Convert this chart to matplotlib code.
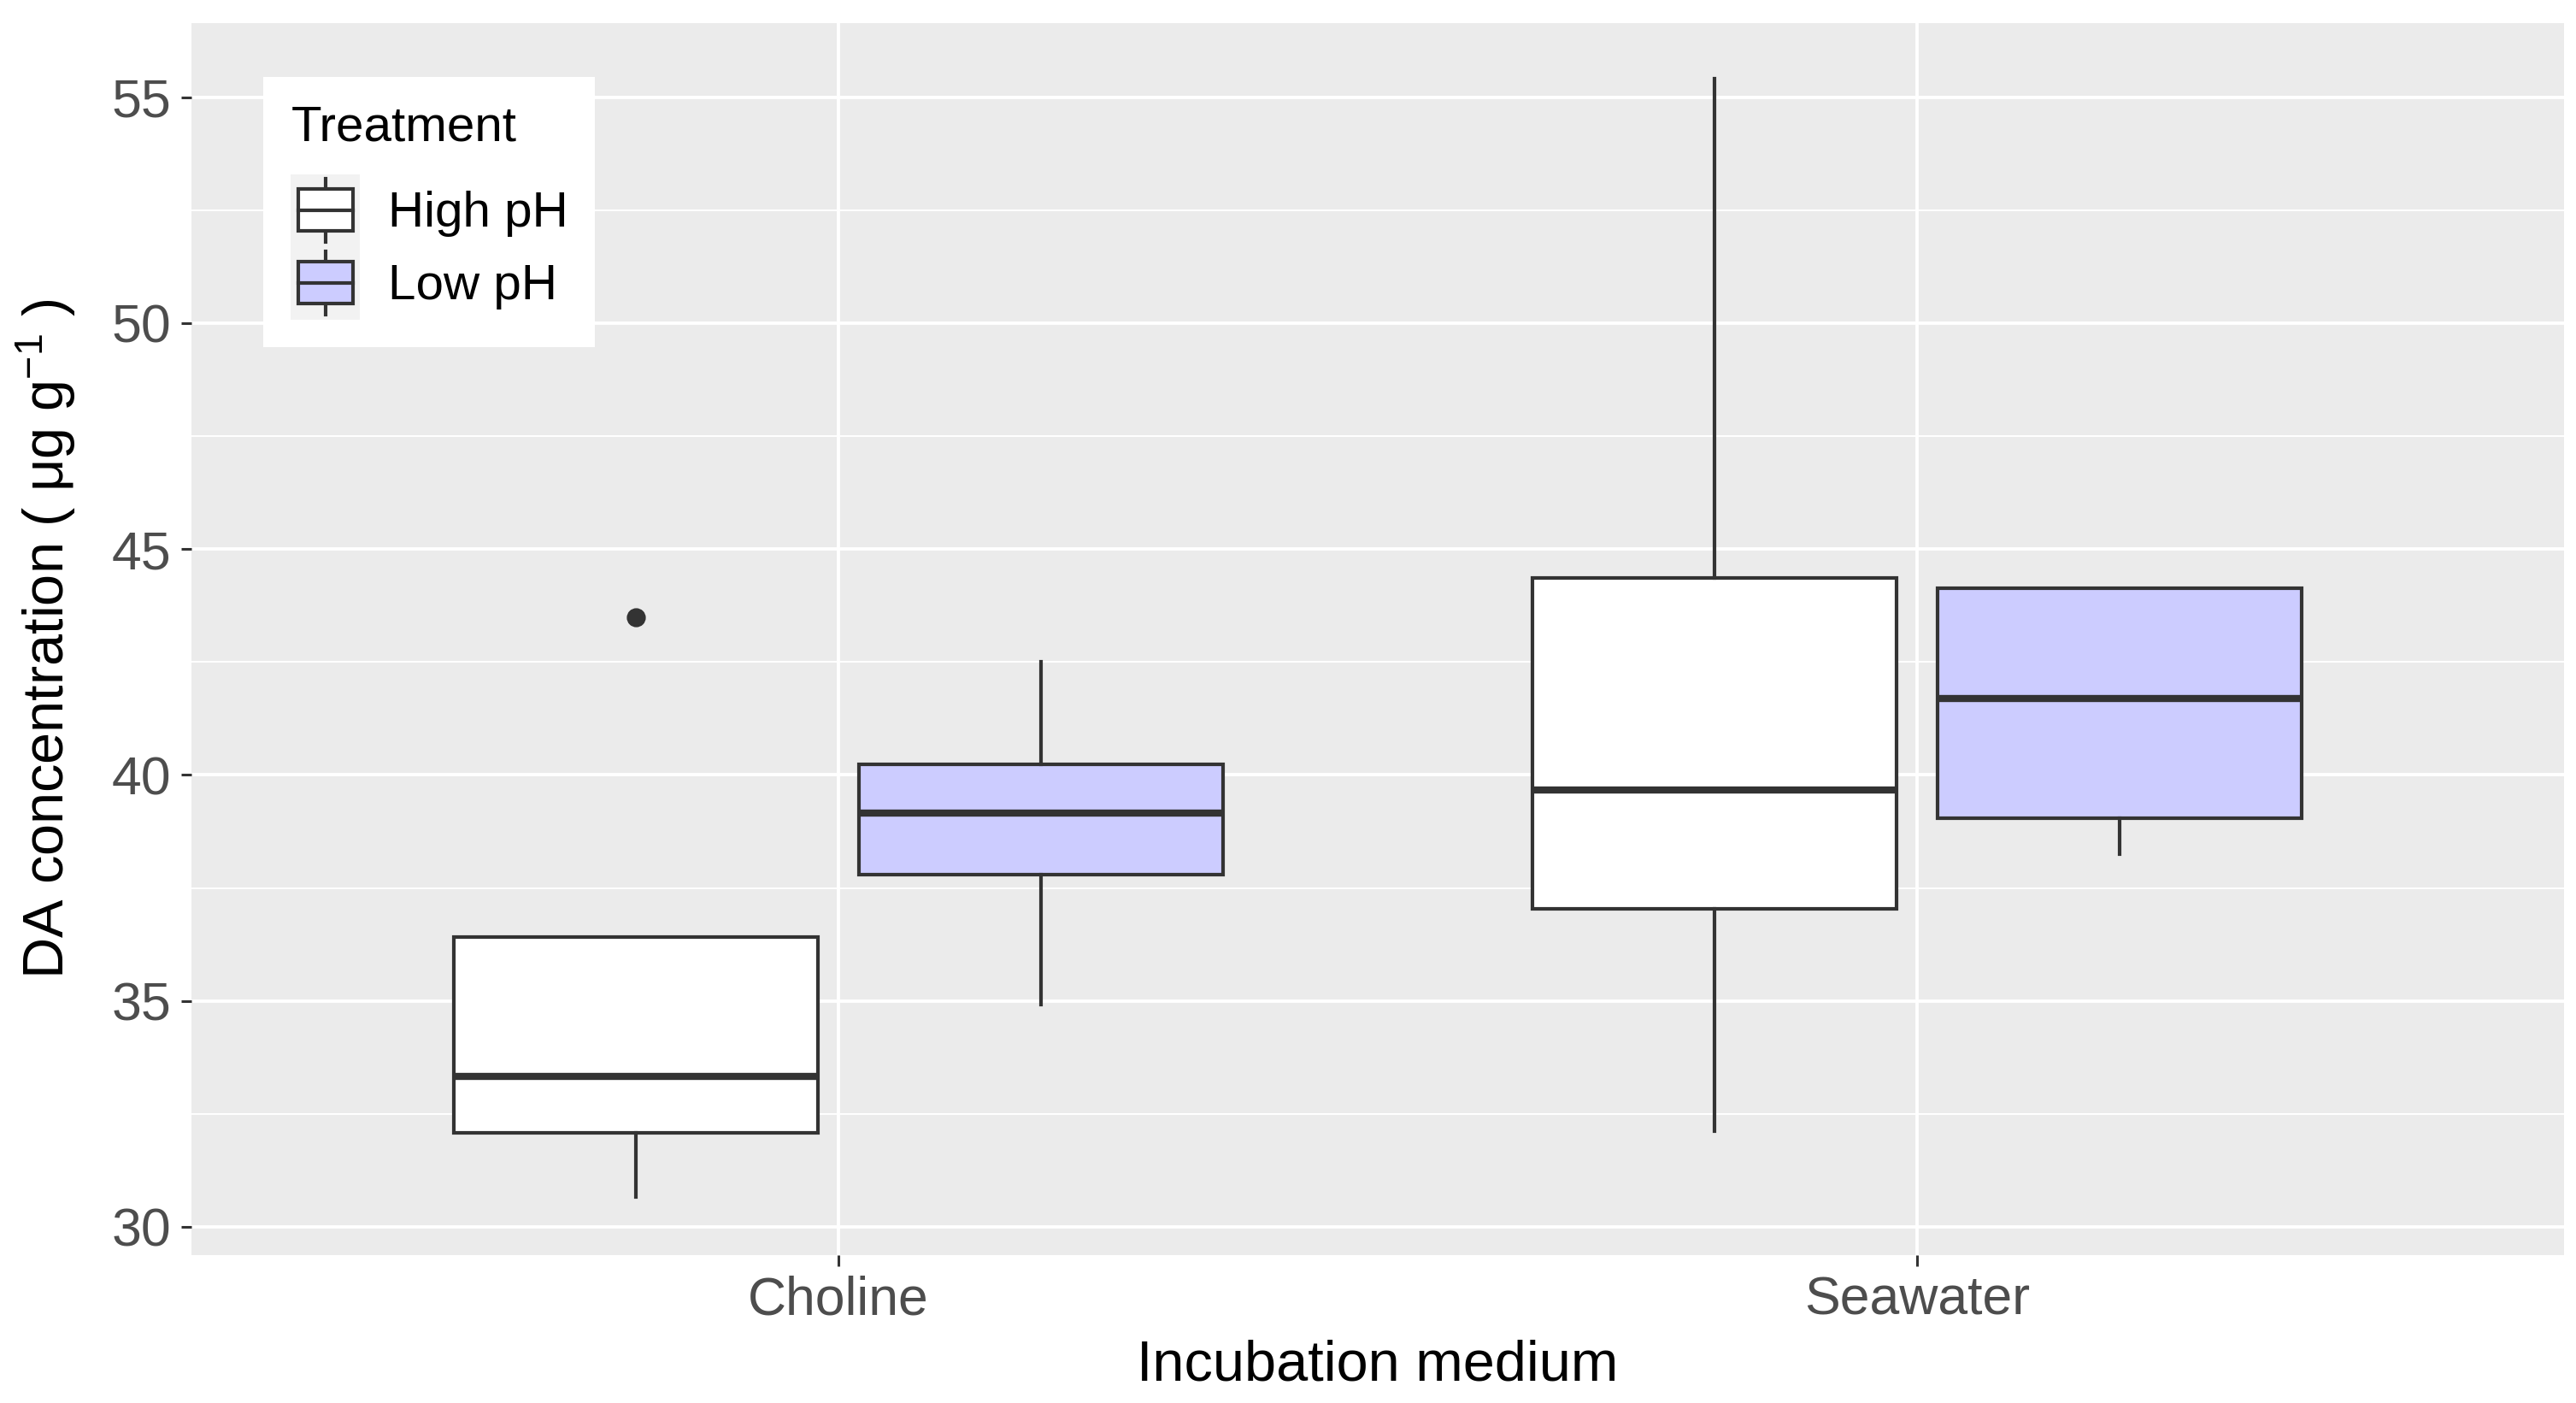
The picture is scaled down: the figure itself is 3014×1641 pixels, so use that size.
import numpy as np
import matplotlib
matplotlib.use("Agg")
import matplotlib.pyplot as plt
from matplotlib.legend_handler import HandlerBase
from matplotlib.patches import Rectangle
from matplotlib.lines import Line2D

plt.rcParams['font.family'] = ['Liberation Sans', 'DejaVu Sans']
plt.rcParams['mathtext.fontset'] = 'custom'
plt.rcParams['mathtext.rm'] = 'Liberation Sans'
plt.rcParams['mathtext.it'] = 'Liberation Sans:italic'

media = ["Choline", "Seawater"]
treatments = ["High pH", "Low pH"]
colors = ["#FFFFFF", "#CCCCFF"]

# five-number summaries, [medium][treatment]
whislo = [[30.66, 34.92], [32.11, 38.24]]
q1 = [[32.08, 37.80], [37.03, 39.04]]
med = [[33.32, 39.15], [39.66, 41.70]]
q3 = [[36.41, 40.24], [44.36, 44.14]]
whishi = [[36.41, 42.50], [55.40, 44.14]]
fliers = [[[43.48], []], [[], []]]

edge = "#333333"
lw = 1.5

fig = plt.figure(figsize=(15.07, 8.205), dpi=200)
ax = fig.add_axes([0.0742, 0.1056, 0.9213, 0.878])
ax.set_facecolor("#EBEBEB")

dodge = [-0.1875, 0.1875]
for i, m in enumerate(media):
    for j, t in enumerate(treatments):
        st = dict(whislo=whislo[i][j], q1=q1[i][j], med=med[i][j],
                  q3=q3[i][j], whishi=whishi[i][j], fliers=fliers[i][j])
        ax.bxp([st], positions=[i + 1 + dodge[j]], widths=0.3375,
               patch_artist=True, showcaps=False,
               boxprops=dict(facecolor=colors[j], edgecolor=edge, linewidth=lw),
               medianprops=dict(color=edge, linewidth=lw * 2.0, solid_capstyle='butt'),
               whiskerprops=dict(color=edge, linewidth=lw),
               flierprops=dict(marker='o', markerfacecolor=edge, markeredgecolor=edge,
                               markersize=7),
               zorder=3)

ax.set_xlim(0.4, 2.6)
ax.set_ylim(29.38, 56.64)
ax.set_xticks([1, 2])
ax.set_xticklabels(media)
ax.set_yticks([30, 35, 40, 45, 50, 55])
ax.set_yticks([32.5, 37.5, 42.5, 47.5, 52.5], minor=True)
ax.grid(which='major', color='white', linewidth=1.4, zorder=0)
ax.grid(which='minor', axis='y', color='white', linewidth=0.7, zorder=0)
ax.set_axisbelow(True)
for s in ax.spines.values():
    s.set_visible(False)
ax.tick_params(which='major', length=4.5, width=1.1, color=edge,
               labelsize=22.5, labelcolor='#4D4D4D', pad=4)
ax.tick_params(which='minor', length=0)

ax.set_xlabel("Incubation medium", fontsize=24, color='black', labelpad=6)
ax.set_ylabel("DA concentration ( μg g$^{-1}$ )", fontsize=24, color='black', labelpad=14)


class BoxHandler(HandlerBase):
    def __init__(self, fc):
        super().__init__()
        self.fc = fc

    def create_artists(self, legend, orig, xd, yd, width, height, fontsize, trans):
        x0, y0 = -xd, -yd
        bg = Rectangle((x0, y0), width, height,
                       facecolor='#F2F2F2', edgecolor='none', transform=trans)
        bx0 = x0 + width * 0.1
        bw = width * 0.8
        by0 = y0 + height * 0.22
        bh = height * 0.58
        box = Rectangle((bx0, by0), bw, bh, facecolor=self.fc,
                        edgecolor=edge, linewidth=lw, transform=trans)
        cx = x0 + width / 2
        wl = Line2D([cx, cx], [y0 + height * 0.07, by0], color=edge, lw=lw, transform=trans)
        wh = Line2D([cx, cx], [by0 + bh, y0 + height * 0.94], color=edge, lw=lw,
                    transform=trans)
        md = Line2D([bx0, bx0 + bw], [by0 + bh / 2] * 2, color=edge, lw=lw,
                    transform=trans)
        return [bg, wl, wh, box, md]


handles = [Rectangle((0, 0), 1, 1, label=t) for t in treatments]
leg = ax.legend(handles, treatments, title="Treatment", loc='upper left',
                bbox_to_anchor=(0.0305, 0.956), borderaxespad=0, fontsize=21,
                title_fontsize=21, frameon=True, fancybox=False, framealpha=1,
                edgecolor='white',
                handler_map={handles[0]: BoxHandler(colors[0]),
                             handles[1]: BoxHandler(colors[1])},
                handlelength=1.39, handleheight=1.86, handletextpad=0.55,
                labelspacing=0.0, borderpad=0.55)
leg._legend_box.align = "left"
leg._legend_box.sep = 10
leg.get_frame().set_linewidth(0)

fig.savefig("out.png", dpi=200)
